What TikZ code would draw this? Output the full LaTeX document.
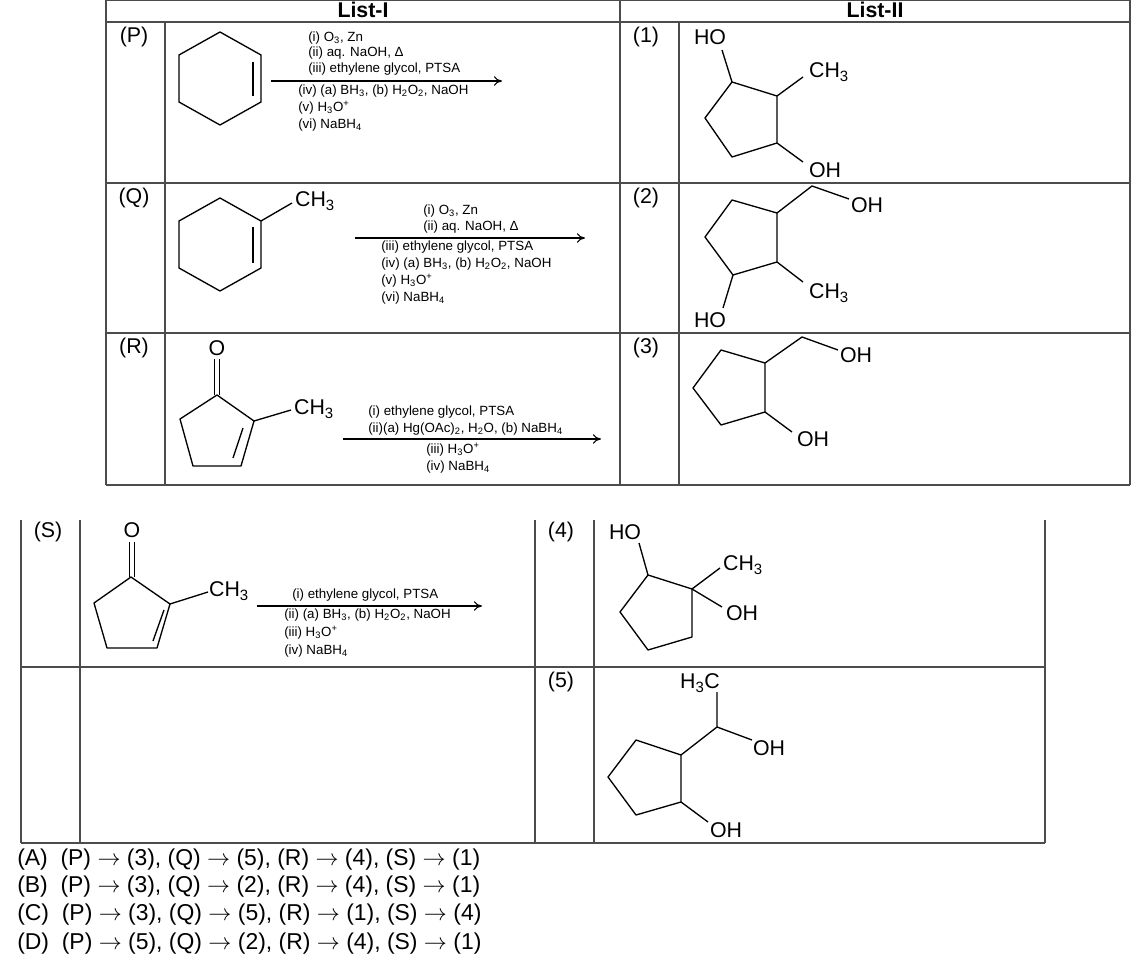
\documentclass[tikz,border=0pt]{standalone}
\usepackage{fontspec}
\setmainfont{Liberation Sans}
\usetikzlibrary{arrows.meta}
\begin{document}
\begin{tikzpicture}[x=0.75pt,y=-0.75pt,
  grid/.style={draw=black!70,line width=1.1pt},
  bond/.style={line width=1pt,line join=round},
  lab/.style={font=\fontsize{16}{18}\selectfont,inner sep=0pt},
  opt/.style={font=\fontsize{17.2}{19}\selectfont,inner sep=0pt,anchor=west},
  chem/.style={font=\fontsize{16}{18}\selectfont,inner sep=0pt},
  reag/.style={font=\fontsize{10}{11}\selectfont,inner sep=0pt,anchor=west},
  rarrow/.style={line width=0.8pt,-{To[length=6pt,width=7pt]}},
  hdr/.style={font=\fontsize{16}{18}\selectfont\bfseries,inner sep=0pt}]
\useasboundingbox (0,0) rectangle (1146,977);
% ---------- table 1 ----------
\draw[grid] (106,0) -- (1130,0);
\draw[grid] (106,22) -- (1130,22);
\draw[grid] (106,183) -- (1130,183);
\draw[grid] (106,333) -- (1130,333);
\draw[grid] (106,485) -- (1130,485);
\draw[grid] (106,0) -- (106,485);
\draw[grid] (165,22) -- (165,485);
\draw[grid] (620,0) -- (620,485);
\draw[grid] (679,22) -- (679,485);
\draw[grid] (1130,0) -- (1130,485);
\node[hdr] (h1) at (363,10) {List-I};
\node[hdr] (h2) at (875,10) {List-II};
\node[lab] (lP) at (134,37) {(P)};
\node[lab] (lQ) at (134,198) {(Q)};
\node[lab] (lR) at (134,348) {(R)};
\node[lab] (l1) at (646,37) {(1)};
\node[lab] (l2) at (646,198) {(2)};
\node[lab] (l3) at (646,348) {(3)};
% ---------- table 2 ----------
\draw[grid] (21,667) -- (1045,667);
\draw[grid] (21,843) -- (1045,843);
\foreach \x in {21,80,535,594,1045} \draw[grid] (\x,520) -- (\x,843);
\node[lab] (lS) at (48,532) {(S)};
\node[lab] (l4) at (561,532) {(4)};
\node[lab] (l5) at (561,682) {(5)};
% ---------- P ----------
\draw[bond] (220,32) -- (261,55) -- (261,102) -- (220,125) -- (179,102) -- (179,55) -- cycle;
\draw[bond] (253,62) -- (253,96);
\coordinate (pa) at (271,81); \coordinate (pb) at (502,81);
\draw[rarrow] (pa) -- (pb);
\node[reag] (p1) at (308,38) {(i) O\textsubscript{3}, Zn};
\node[reag] (p2) at (308,53) {(ii) aq. NaOH, Δ};
\node[reag] (p3) at (308,69) {(iii) ethylene glycol, PTSA};
\node[reag] (p4) at (298,91) {(iv) (a) BH\textsubscript{3}, (b) H\textsubscript{2}O\textsubscript{2}, NaOH};
\node[reag] (p5) at (298,108) {(v) H\textsubscript{3}O\textsuperscript{+}};
\node[reag] (p6) at (298,125) {(vi) NaBH\textsubscript{4}};
% ---------- Q ----------
\draw[bond] (220,198) -- (261,221) -- (261,268) -- (220,291) -- (179,268) -- (179,221) -- cycle;
\draw[bond] (253,227) -- (253,263);
\draw[bond] (261,221) -- (292,203);
\node[chem] (qch) at (315,201) {CH\textsubscript{3}};
\coordinate (qa) at (355,238); \coordinate (qb) at (585,238);
\draw[rarrow] (qa) -- (qb);
\node[reag] (q1) at (423,211) {(i) O\textsubscript{3}, Zn};
\node[reag] (q2) at (423,227) {(ii) aq. NaOH, Δ};
\node[reag] (q3) at (381,247) {(iii) ethylene glycol, PTSA};
\node[reag] (q4) at (381,264) {(iv) (a) BH\textsubscript{3}, (b) H\textsubscript{2}O\textsubscript{2}, NaOH};
\node[reag] (q5) at (381,281) {(v) H\textsubscript{3}O\textsuperscript{+}};
\node[reag] (q6) at (381,298) {(vi) NaBH\textsubscript{4}};
% ---------- R ----------
\node[chem] (rO) at (217,348) {O};
\draw[bond] (214.5,359) -- (214.5,395); \draw[bond] (219.5,359) -- (219.5,395);
\draw[bond] (217,395) -- (254,421) -- (241,466) -- (193,466) -- (180,419) -- cycle;
\draw[bond] (243,428) -- (233,458);
\draw[bond] (254,421) -- (291,410);
\node[chem] (rch) at (314,409) {CH\textsubscript{3}};
\coordinate (ra) at (343,439); \coordinate (rb) at (601,439);
\draw[rarrow] (ra) -- (rb);
\node[reag] (r1) at (368,412) {(i) ethylene glycol, PTSA};
\node[reag] (r2) at (368,429) {(ii)(a) Hg(OAc)\textsubscript{2}, H\textsubscript{2}O, (b) NaBH\textsubscript{4}};
\node[reag] (r3) at (426,450) {(iii) H\textsubscript{3}O\textsuperscript{+}};
\node[reag] (r4) at (426,467) {(iv) NaBH\textsubscript{4}};
% ---------- S ----------
\node[chem] (sO) at (132,530) {O};
\draw[bond] (129.5,542) -- (129.5,577); \draw[bond] (134.5,542) -- (134.5,577);
\draw[bond] (131,577) -- (170,604) -- (157,648) -- (107,648) -- (94,603) -- cycle;
\draw[bond] (164,610) -- (153,641);
\draw[bond] (170,604) -- (208,592);
\node[chem] (sch) at (229,591) {CH\textsubscript{3}};
\coordinate (sa) at (257,606); \coordinate (sb) at (482,606);
\draw[rarrow] (sa) -- (sb);
\node[reag] (s1) at (292,595) {(i) ethylene glycol, PTSA};
\node[reag] (s2) at (284,615) {(ii) (a) BH\textsubscript{3}, (b) H\textsubscript{2}O\textsubscript{2}, NaOH};
\node[reag] (s3) at (284,633) {(iii) H\textsubscript{3}O\textsuperscript{+}};
\node[reag] (s4) at (284,651) {(iv) NaBH\textsubscript{4}};
% ---------- (1) ----------
\draw[bond] (732,82) -- (777,96) -- (777,143) -- (732,157) -- (705,118) -- cycle;
\draw[bond] (732,82) -- (722,50);
\node[chem] (o1a) at (710,37) {HO};
\draw[bond] (777,96) -- (803,77);
\node[chem] (o1b) at (829,72) {CH\textsubscript{3}};
\draw[bond] (777,143) -- (803,162);
\node[chem] (o1c) at (825,170) {OH};
% ---------- (2) ----------
\draw[bond] (732,200) -- (777,213) -- (777,262) -- (733,275) -- (705,237) -- cycle;
\draw[bond] (777,213) -- (812,186) -- (849,199);
\node[chem] (o2a) at (867,205) {OH};
\draw[bond] (777,262) -- (803,282);
\node[chem] (o2b) at (829,293) {CH\textsubscript{3}};
\draw[bond] (733,275) -- (723,308);
\node[chem] (o2c) at (710,320) {HO};
% ---------- (3) ----------
\draw[bond] (721,350) -- (765,363) -- (765,412) -- (721,425) -- (693,388) -- cycle;
\draw[bond] (765,363) -- (802,337) -- (838,350);
\node[chem] (o3a) at (856,355) {OH};
\draw[bond] (765,412) -- (792,432);
\node[chem] (o3b) at (813,439) {OH};
% ---------- (4) ----------
\draw[bond] (648,575) -- (692,589) -- (692,637) -- (648,650) -- (620,612) -- cycle;
\draw[bond] (648,575) -- (639,543);
\node[chem] (o4a) at (625,532) {HO};
\draw[bond] (692,589) -- (720,568);
\node[chem] (o4b) at (743,565) {CH\textsubscript{3}};
\draw[bond] (692,589) -- (722,607);
\node[chem] (o4c) at (742,613) {OH};
% ---------- (5) ----------
\draw[bond] (636,740) -- (681,755) -- (681,802) -- (636,815) -- (608,777) -- cycle;
\draw[bond] (681,755) -- (717,727) -- (717,692);
\node[chem] (o5a) at (700,683) {H\textsubscript{3}C};
\draw[bond] (717,727) -- (752,740);
\node[chem] (o5b) at (769,748) {OH};
\draw[bond] (681,802) -- (708,822);
\node[chem] (o5c) at (726,830) {OH};
% ---------- options ----------
\node[opt] (oA) at (17,860) {(A)\ \ (P) $\rightarrow$ (3), (Q) $\rightarrow$ (5), (R) $\rightarrow$ (4), (S) $\rightarrow$ (1)};
\node[opt] (oB) at (17,887) {(B)\ \ (P) $\rightarrow$ (3), (Q) $\rightarrow$ (2), (R) $\rightarrow$ (4), (S) $\rightarrow$ (1)};
\node[opt] (oC) at (17,915) {(C)\ \ (P) $\rightarrow$ (3), (Q) $\rightarrow$ (5), (R) $\rightarrow$ (1), (S) $\rightarrow$ (4)};
\node[opt] (oD) at (17,944) {(D)\ \ (P) $\rightarrow$ (5), (Q) $\rightarrow$ (2), (R) $\rightarrow$ (4), (S) $\rightarrow$ (1)};
\end{tikzpicture}
\end{document}
